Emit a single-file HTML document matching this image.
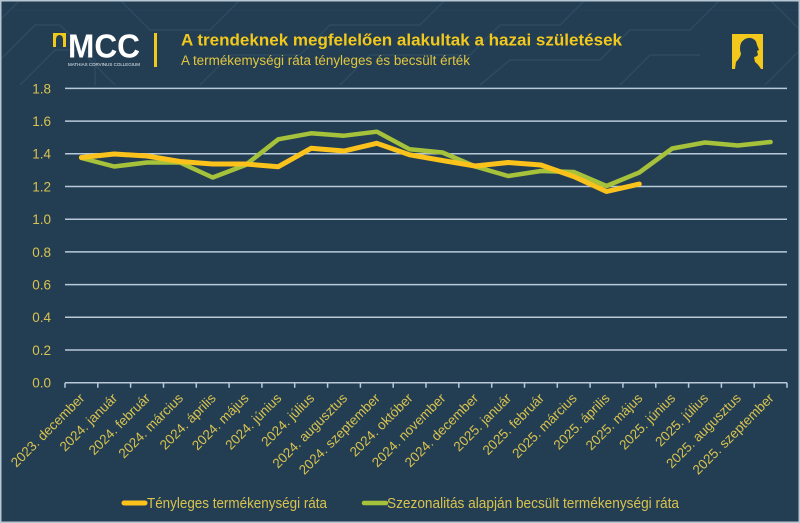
<!DOCTYPE html>
<html><head><meta charset="utf-8"><style>
html,body{margin:0;padding:0;background:#233e53;}
svg{display:block;}
text{font-family:"Liberation Sans",sans-serif;}
</style></head><body>
<svg width="800" height="523" viewBox="0 0 800 523" xmlns="http://www.w3.org/2000/svg">
<rect x="0" y="0" width="800" height="523" fill="#233e53"/>
<!-- faint background pattern -->
<g stroke="#2f4c63" stroke-width="1.5" fill="none" opacity="0.9">
<polyline points="0,20 20,0"/>
<polyline points="0,60 35,25 60,25 95,60 95,85"/>
<polyline points="20,85 55,50 80,50 115,85"/>
<polyline points="120,0 150,30 210,30 240,0"/>
<polyline points="200,85 230,55 300,55 330,25 420,25 445,0"/>
<polyline points="340,85 370,55 470,55 500,25 560,25 585,0"/>
<polyline points="480,85 510,60 600,60 630,30 690,30 720,0"/>
<polyline points="620,85 650,55 700,55"/>
<polyline points="770,0 800,30"/>
<polyline points="765,85 800,50"/>
<polyline points="0,10 800,10" opacity="0.25"/>
</g>
<!-- border -->
<rect x="0.75" y="0.75" width="798.5" height="521.5" fill="none" stroke="#b7c6d1" stroke-width="1.5"/>

<!-- MCC logo -->
<rect x="53" y="33" width="13" height="14" fill="#f2c81c"/>
<path d="M56,47 L56,40 Q56,35 59.5,35 Q63,35 63,40 L63,47 Z" fill="#233e53"/>
<text x="68" y="57.5" font-size="33" font-weight="bold" fill="#ffffff" textLength="72" lengthAdjust="spacingAndGlyphs">MCC</text>
<text x="68" y="66" font-size="4.5" fill="#e8eef2" textLength="72" lengthAdjust="spacingAndGlyphs">MATHIAS CORVINUS COLLEGIUM</text>
<rect x="154" y="33" width="3" height="34" fill="#f2c81c"/>

<!-- title -->
<text x="181" y="45.5" font-size="17" font-weight="bold" fill="#f2c81c" textLength="441" lengthAdjust="spacingAndGlyphs">A trendeknek megfelelően alakultak a hazai születések</text>
<text x="181" y="65" font-size="13.5" fill="#e2c640" textLength="289" lengthAdjust="spacingAndGlyphs">A termékemységi ráta tényleges és becsült érték</text>

<!-- portrait icon -->
<rect x="732" y="34" width="31" height="35" fill="#f2c81c"/>
<path d="M735,69 L736,62 Q740,58 741,54 Q739,48 741,43 Q745,37 751,38 Q756,39 757,45 L759,50 L757,51 L758,55 Q756,57 754,57 L755,62 Q758,64 761,69 Z" fill="#233e53"/>

<!-- gridlines -->
<g stroke="#b9c9d8" stroke-width="1.5">
<line x1="65" x2="787" y1="88.4" y2="88.4"/>
<line x1="65" x2="787" y1="121.1" y2="121.1"/>
<line x1="65" x2="787" y1="153.8" y2="153.8"/>
<line x1="65" x2="787" y1="186.5" y2="186.5"/>
<line x1="65" x2="787" y1="219.2" y2="219.2"/>
<line x1="65" x2="787" y1="251.9" y2="251.9"/>
<line x1="65" x2="787" y1="284.6" y2="284.6"/>
<line x1="65" x2="787" y1="317.3" y2="317.3"/>
<line x1="65" x2="787" y1="350.0" y2="350.0"/>
<line x1="65" x2="787" y1="382.7" y2="382.7"/>
</g>
<!-- x ticks -->
<g stroke="#b9c9d8" stroke-width="1.5">
<path d="M65,382.7v5 M97.8,382.7v5 M130.6,382.7v5 M163.5,382.7v5 M196.3,382.7v5 M229.1,382.7v5 M261.9,382.7v5 M294.7,382.7v5 M327.6,382.7v5 M360.4,382.7v5 M393.2,382.7v5 M426,382.7v5 M458.8,382.7v5 M491.7,382.7v5 M524.5,382.7v5 M557.3,382.7v5 M590.1,382.7v5 M622.9,382.7v5 M655.8,382.7v5 M688.6,382.7v5 M721.4,382.7v5 M754.2,382.7v5 M787,382.7v5"/>
</g>

<!-- y labels -->
<g font-size="13.5" fill="#d9c24e" text-anchor="end">
<text x="51" y="93.3">1.8</text>
<text x="51" y="126">1.6</text>
<text x="51" y="158.7">1.4</text>
<text x="51" y="191.4">1.2</text>
<text x="51" y="224.1">1.0</text>
<text x="51" y="256.8">0.8</text>
<text x="51" y="289.5">0.6</text>
<text x="51" y="322.2">0.4</text>
<text x="51" y="354.9">0.2</text>
<text x="51" y="387.6">0.0</text>
</g>

<!-- x labels -->
<g font-size="13.5" fill="#d9c24e" text-anchor="end">
<text transform="translate(85.4,399) rotate(-45)">2023. december</text>
<text transform="translate(118.2,399) rotate(-45)">2024. január</text>
<text transform="translate(151,399) rotate(-45)">2024. február</text>
<text transform="translate(183.9,399) rotate(-45)">2024. március</text>
<text transform="translate(216.7,399) rotate(-45)">2024. április</text>
<text transform="translate(249.5,399) rotate(-45)">2024. május</text>
<text transform="translate(282.3,399) rotate(-45)">2024. június</text>
<text transform="translate(315.1,399) rotate(-45)">2024. július</text>
<text transform="translate(348,399) rotate(-45)">2024. augusztus</text>
<text transform="translate(380.8,399) rotate(-45)">2024. szeptember</text>
<text transform="translate(413.6,399) rotate(-45)">2024. október</text>
<text transform="translate(446.4,399) rotate(-45)">2024. november</text>
<text transform="translate(479.2,399) rotate(-45)">2024. december</text>
<text transform="translate(512.1,399) rotate(-45)">2025. január</text>
<text transform="translate(544.9,399) rotate(-45)">2025. február</text>
<text transform="translate(577.7,399) rotate(-45)">2025. március</text>
<text transform="translate(610.5,399) rotate(-45)">2025. április</text>
<text transform="translate(643.3,399) rotate(-45)">2025. május</text>
<text transform="translate(676.2,399) rotate(-45)">2025. június</text>
<text transform="translate(709,399) rotate(-45)">2025. július</text>
<text transform="translate(741.8,399) rotate(-45)">2025. augusztus</text>
<text transform="translate(774.6,399) rotate(-45)">2025. szeptember</text>
</g>

<!-- series -->
<polyline fill="none" stroke="#a6c23a" stroke-width="4.5" stroke-linejoin="round" stroke-linecap="round"
points="81.4,158 114.2,166.5 147,162.5 179.9,162.5 212.7,177.5 245.5,165 278.3,139.3 311.1,133.3 344,135.7 376.8,131.7 409.6,149.3 442.4,152.5 475.2,166.5 508.1,176 540.9,171 573.7,172 606.5,186 639.3,172.5 672.2,148.5 705,142.5 737.8,145.5 770.6,142"/>
<polyline fill="none" stroke="#fbc21b" stroke-width="5" stroke-linejoin="round" stroke-linecap="round"
points="81.4,157.5 114.2,154 147,156 179.9,161.5 212.7,164 245.5,164 278.3,166.7 311.1,148.3 344,151 376.8,143.3 409.6,154.8 442.4,160.5 475.2,166 508.1,162.5 540.9,165 573.7,176.5 606.5,191.5 639.3,184"/>

<!-- legend -->
<line x1="124" y1="503" x2="145" y2="503" stroke="#fbc21b" stroke-width="5" stroke-linecap="round"/>
<text x="147" y="508" font-size="14.5" fill="#d9c24e" textLength="180" lengthAdjust="spacingAndGlyphs">Tényleges termékenységi ráta</text>
<line x1="364" y1="503" x2="386" y2="503" stroke="#a6c23a" stroke-width="4.5" stroke-linecap="round"/>
<text x="387" y="508" font-size="14.5" fill="#d9c24e" textLength="292" lengthAdjust="spacingAndGlyphs">Szezonalitás alapján becsült termékenységi ráta</text>
</svg>
</body></html>
